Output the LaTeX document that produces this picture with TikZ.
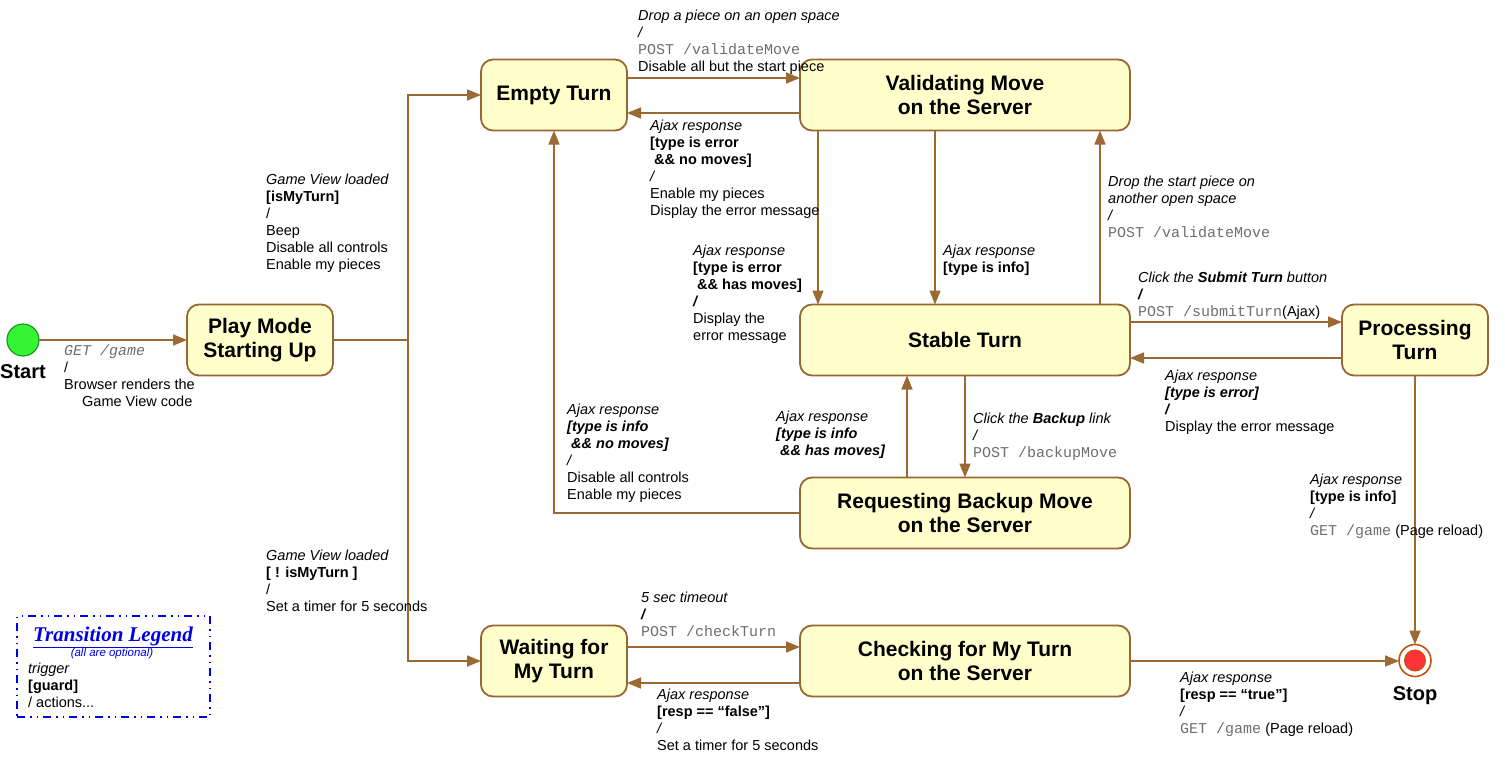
\documentclass[tikz,border=0pt]{standalone}
\usepackage{fontspec}
\setmainfont{Liberation Sans}
\setmonofont{Liberation Mono}
\newfontfamily\legendserif{Liberation Serif}
\usetikzlibrary{positioning,arrows.meta}

\definecolor{statefill}{RGB}{255,255,204}
\definecolor{stateline}{RGB}{153,102,51}
\definecolor{transline}{RGB}{155,105,50}
\definecolor{startgreen}{RGB}{51,245,51}
\definecolor{startedge}{RGB}{35,150,35}
\definecolor{stopring}{RGB}{190,85,20}
\definecolor{stopred}{RGB}{255,51,51}
\definecolor{httpgray}{RGB}{110,110,110}
\definecolor{legendblue}{RGB}{0,0,230}
\newcommand{\httpcall}[1]{{\ttfamily\fontsize{15}{17}\selectfont\color{httpgray}#1}}

\begin{document}
\begin{tikzpicture}[x=1pt,y=-1pt,
    state/.style={rectangle,rounded corners=12pt,draw=stateline,fill=statefill,line width=1.8pt,minimum height=71pt,inner sep=0pt,outer sep=0pt,align=center,font=\fontsize{21}{24}\selectfont\bfseries},
    small/.style={state,minimum width=146pt},
    wide/.style={state,minimum width=330pt},
    trans/.style={draw=transline,line width=1.6pt,-{Triangle[length=14pt,width=11pt]}},
    lbl/.style={align=left,anchor=north west,inner sep=0pt,font=\fontsize{14.5}{17}\selectfont},
    startdot/.style={circle,draw=startedge,fill=startgreen,line width=1.2pt,minimum size=32pt,inner sep=0pt,outer sep=0pt},
    endring/.style={circle,draw=stopring,fill=white,line width=1.6pt,minimum size=32pt,inner sep=0pt,outer sep=0pt},
    enddot/.style={circle,draw=stopring,fill=stopred,line width=1pt,minimum size=21pt,inner sep=0pt},
    endname/.style={inner sep=0pt,font=\fontsize{20}{24}\selectfont\bfseries},
    legendbox/.style={rectangle,draw=legendblue,line width=1.6pt,dash pattern=on 8pt off 5pt on 1.5pt off 5pt on 1.5pt off 5pt,minimum width=193pt,minimum height=101pt}]
    \useasboundingbox (0,0) rectangle (1505,760);

    \node[small] (empty) at (554,95) {Empty Turn};
    \node[wide] (validating) [right=173pt of empty] {Validating Move\\on the Server};
    \node[wide] (stable) [below=174pt of validating] {Stable Turn};
    \node[small] (processing) [right=212pt of stable] {Processing\\Turn};
    \node[wide] (requesting) [below=102pt of stable] {Requesting Backup Move\\on the Server};
    \node[wide] (checking) [below=77pt of requesting] {Checking for My Turn\\on the Server};
    \node[small] (waiting) [left=173pt of checking] {Waiting for\\My Turn};
    \node[small] (play) at (260,340) {Play Mode\\Starting Up};
    \node[startdot] (start) [left=148pt of play] {};
    \node[endname] (startname) [below=8pt of start] {Start};
    \node[endring] (stop) [below=269pt of processing] {};
    \node[enddot] (stopdot) at (stop) {};
    \node[endname] (stopname) [below=10pt of stop] {Stop};

    \draw[trans] (start) -- (play);
    \draw[trans] (play.east) -- ++(75,0) coordinate (fork) |- (empty.west);
    \draw[trans] (fork) |- (waiting.west);
    \draw[trans] ([yshift=17pt]empty.east) -- ([yshift=17pt]validating.west);
    \draw[trans] ([yshift=-18pt]validating.west) -- ([yshift=-18pt]empty.east);
    \draw[trans] ([xshift=-147pt]validating.south) -- ([xshift=-147pt]stable.north);
    \draw[trans] ([xshift=-30pt]validating.south) -- ([xshift=-30pt]stable.north);
    \draw[trans] ([xshift=135pt]stable.north) -- ([xshift=135pt]validating.south);
    \draw[trans] ([yshift=18pt]stable.east) -- ([yshift=18pt]processing.west);
    \draw[trans] ([yshift=-18pt]processing.west) -- ([yshift=-18pt]stable.east);
    \draw[trans] (processing) -- (stop);
    \draw[trans] (stable) -- (requesting);
    \draw[trans] ([xshift=-58pt]requesting.north) -- ([xshift=-58pt]stable.south);
    \draw[trans] (requesting.west) -| (empty.south);
    \draw[trans] ([yshift=14pt]waiting.east) -- ([yshift=14pt]checking.west);
    \draw[trans] ([yshift=-22pt]checking.west) -- ([yshift=-22pt]waiting.east);
    \draw[trans] (checking.east) -- (checking.east -| stop.west);

    \node[lbl] (lstart) at (64,344.5) {\httpcall{\itshape GET /game}\\/\\Browser renders the\\\hspace*{18pt}Game View code};
    \node[lbl] (lmyturn) at (266,173.5) {\textit{Game View loaded}\\\textbf{[isMyTurn]}\\/\\Beep\\Disable all controls\\Enable my pieces};
    \node[lbl] (lnotmyturn) at (266,549.5) {\textit{Game View loaded}\\\textbf{[ ! isMyTurn ]}\\/\\Set a timer for 5 seconds};
    \node[lbl] (ldrop) at (638,9.5) {\textit{Drop a piece on an open space}\\\textit{/}\\\httpcall{POST /validateMove}\\Disable all but the start piece};
    \node[lbl] (lerrnomoves) at (650,119.5) {\textit{Ajax response}\\\textbf{[type is error}\\\textbf{\ \&\& no moves]}\\\textit{/}\\Enable my pieces\\Display the error message};
    \node[lbl] (lerrmoves) at (693,244.5) {\textit{Ajax response}\\\textbf{[type is error}\\\textbf{\ \&\& has moves]}\\\textbf{\textit{/}}\\Display the\\error message};
    \node[lbl] (linfo) at (943,244.5) {\textit{Ajax response}\\\textbf{[type is info]}};
    \node[lbl] (ldropagain) at (1108,175.5) {\textit{Drop the start piece on}\\\textit{another open space}\\\textit{/}\\\httpcall{POST /validateMove}};
    \node[lbl] (lsubmit) at (1138,271.5) {\textit{Click the \textbf{Submit Turn} button}\\\textbf{\textit{/}}\\\httpcall{POST /submitTurn}(Ajax)};
    \node[lbl] (lprocerror) at (1165,369.5) {\textit{Ajax response}\\\textbf{\textit{[type is error]}}\\\textbf{\textit{/}}\\Display the error message};
    \node[lbl] (lprocinfo) at (1310,473.5) {\textit{Ajax response}\\\textbf{[type is info]}\\\textit{/}\\\httpcall{GET /game} (Page reload)};
    \node[lbl] (lbackup) at (973,412.5) {\textit{Click the \textbf{Backup} link}\\\textit{/}\\\httpcall{POST /backupMove}};
    \node[lbl] (linfomoves) at (776,410.5) {\textit{Ajax response}\\\textbf{\textit{[type is info}}\\\textbf{\textit{\ \&\& has moves]}}};
    \node[lbl] (linfonomoves) at (567,403.5) {\textit{Ajax response}\\\textbf{\textit{[type is info}}\\\textbf{\textit{\ \&\& no moves]}}\\\textit{/}\\Disable all controls\\Enable my pieces};
    \node[lbl] (ltimeout) at (641,591.5) {\textit{5 sec timeout}\\\textbf{\textit{/}}\\\httpcall{POST /checkTurn}};
    \node[lbl] (lfalse) at (657,688.5) {\textit{Ajax response}\\\textbf{[resp == “false”]}\\\textit{/}\\Set a timer for 5 seconds};
    \node[lbl] (ltrue) at (1180,671.5) {\textit{Ajax response}\\\textbf{[resp == “true”]}\\\textit{/}\\\httpcall{GET /game} (Page reload)};

    \node[legendbox] (legend) at (113.5,666.5) {};
    \node[anchor=base,inner sep=0pt,text=legendblue,font=\legendserif\fontsize{21}{24}\selectfont\bfseries\itshape] (legendhead) at (113,641) {\underline{Transition Legend}};
    \node[anchor=base,inner sep=0pt,text=legendblue,font=\fontsize{11.5}{14}\selectfont\itshape] (legendnote) at (112,656) {(all are optional)};
    \node[lbl] (legendkey) at (28,662.5) {\textit{trigger}\\\textbf{[guard]}\\/ actions...};
\end{tikzpicture}
\end{document}
